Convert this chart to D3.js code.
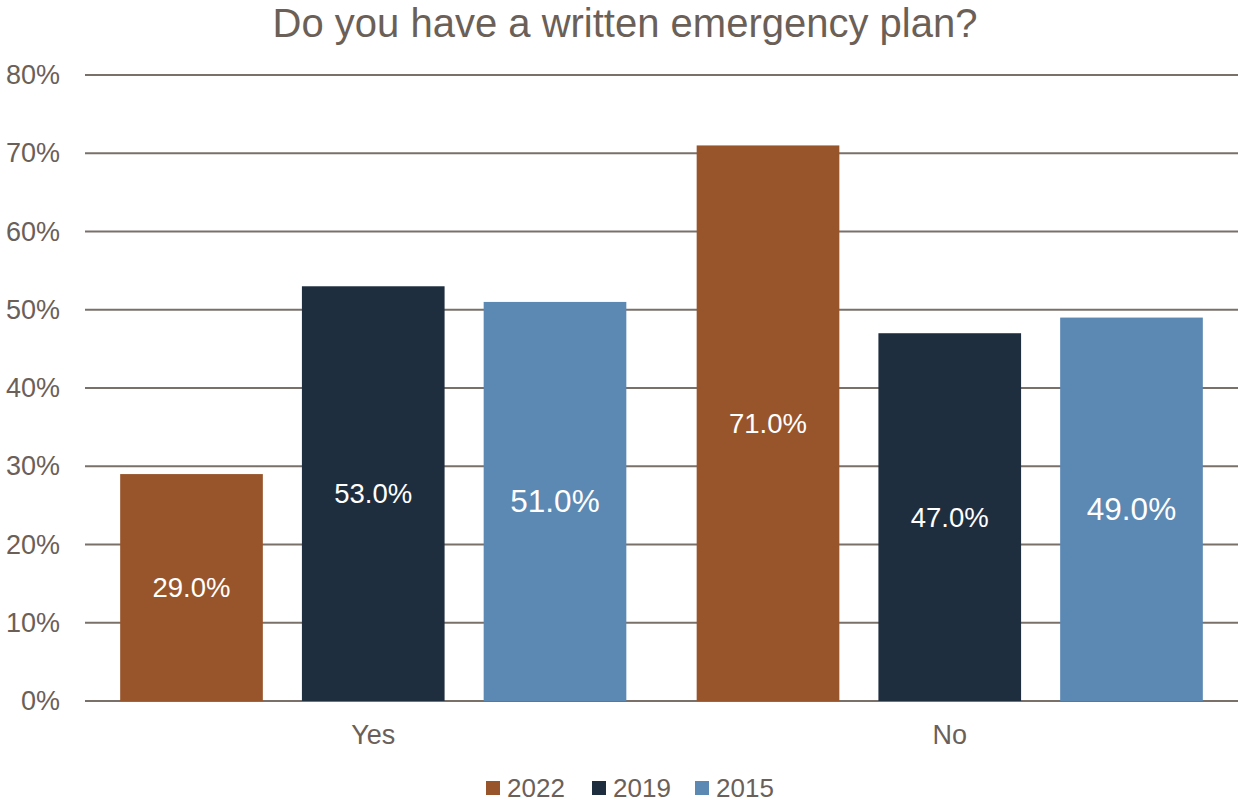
<!DOCTYPE html>
<html>
<head>
<meta charset="utf-8">
<script src="https://cdn.jsdelivr.net/npm/d3@7"></script>
<style>
  body { margin: 0; background: #fff; }
  text { font-family: "Liberation Sans", Arial, sans-serif; }
</style>
</head>
<body>
<div id="container"></div>
<script>
// chart data
var categories = ["Yes", "No"];
var years = ["2022", "2019", "2015"];
var values2022 = [29, 71];
var values2019 = [53, 47];
var values2015 = [51, 49];
var yTicks = [0, 10, 20, 30, 40, 50, 60, 70, 80];
var colors = ["#98552b", "#1f2e3f", "#5b89b4"];

var series = [values2022, values2019, values2015];

var W = 1238, H = 803;
var margin = { top: 75, right: 0, bottom: 102, left: 85 },
	width = W - margin.left - margin.right,
	height = H - margin.top - margin.bottom;

var textColor = "#6b6058";

var svg = d3.select("#container").append("svg")
	.attr("width", W)
	.attr("height", H);

var g = svg.append("g")
	.attr("transform", "translate(" + margin.left + "," + margin.top + ")");

// scales
var x0 = d3.scaleBand()
	.domain(categories)
	.range([0, width])
	.paddingInner(0.122)
	.paddingOuter(0.061);

var x1 = d3.scaleBand()
	.domain(years)
	.range([0, x0.bandwidth()])
	.paddingInner(0.215);

var y = d3.scaleLinear()
	.domain([0, 80])
	.range([height, 0]);

// gridlines
g.selectAll(".grid")
	.data(yTicks)
	.enter().append("line")
	.attr("x1", 0)
	.attr("x2", width)
	.attr("y1", function(d) { return y(d); })
	.attr("y2", function(d) { return y(d); })
	.style("stroke", "#7a706a")
	.style("stroke-width", 2);

// y axis labels
g.append("g")
	.call(d3.axisLeft(y).tickValues(yTicks).tickSize(0).tickPadding(25)
		.tickFormat(function(d) { return d + "%"; }))
	.call(function(a) { a.select(".domain").remove(); })
	.selectAll("text")
	.style("font-size", "27px")
	.style("fill", textColor);

// bars
var groups = g.selectAll(".cat")
	.data(categories)
	.enter().append("g")
	.attr("transform", function(d) { return "translate(" + x0(d) + ",0)"; });

groups.selectAll("rect")
	.data(function(d, i) {
		return years.map(function(yr, j) { return { year: yr, idx: j, value: series[j][i] }; });
	})
	.enter().append("rect")
	.attr("x", function(d) { return x1(d.year); })
	.attr("width", x1.bandwidth())
	.attr("y", function(d) { return y(d.value); })
	.attr("height", function(d) { return height - y(d.value); })
	.style("fill", function(d) { return colors[d.idx]; });

// data labels
groups.selectAll(".lbl")
	.data(function(d, i) {
		return years.map(function(yr, j) { return { year: yr, idx: j, value: series[j][i] }; });
	})
	.enter().append("text")
	.attr("x", function(d) { return x1(d.year) + x1.bandwidth() / 2; })
	.attr("y", function(d) { return (y(d.value) + height) / 2; })
	.attr("dy", "0.35em")
	.attr("text-anchor", "middle")
	.style("fill", "#fff")
	.style("font-size", function(d) { return d.idx == 2 ? "31.5px" : "27.5px"; })
	.text(function(d) { return d.value.toFixed(1) + "%"; });

// x axis labels
g.append("g")
	.attr("transform", "translate(0," + height + ")")
	.call(d3.axisBottom(x0).tickSize(0).tickPadding(24))
	.call(function(a) { a.select(".domain").remove(); })
	.selectAll("text")
	.style("font-size", "27px")
	.style("fill", textColor);

// title
svg.append("text")
	.attr("x", 625)
	.attr("y", 37)
	.attr("text-anchor", "middle")
	.style("font-size", "40px")
	.style("fill", textColor)
	.text("Do you have a written emergency plan?");

// legend
var legX = [486, 592, 695];
var legend = svg.selectAll(".legend")
	.data(years)
	.enter().append("g")
	.attr("transform", function(d, i) { return "translate(" + legX[i] + ",781)"; });

legend.append("rect")
	.attr("width", 14)
	.attr("height", 14)
	.style("fill", function(d, i) { return colors[i]; });

legend.append("text")
	.attr("x", 21)
	.attr("y", 16)
	.style("font-size", "26px")
	.style("fill", textColor)
	.text(function(d) { return d; });
</script>
</body>
</html>
